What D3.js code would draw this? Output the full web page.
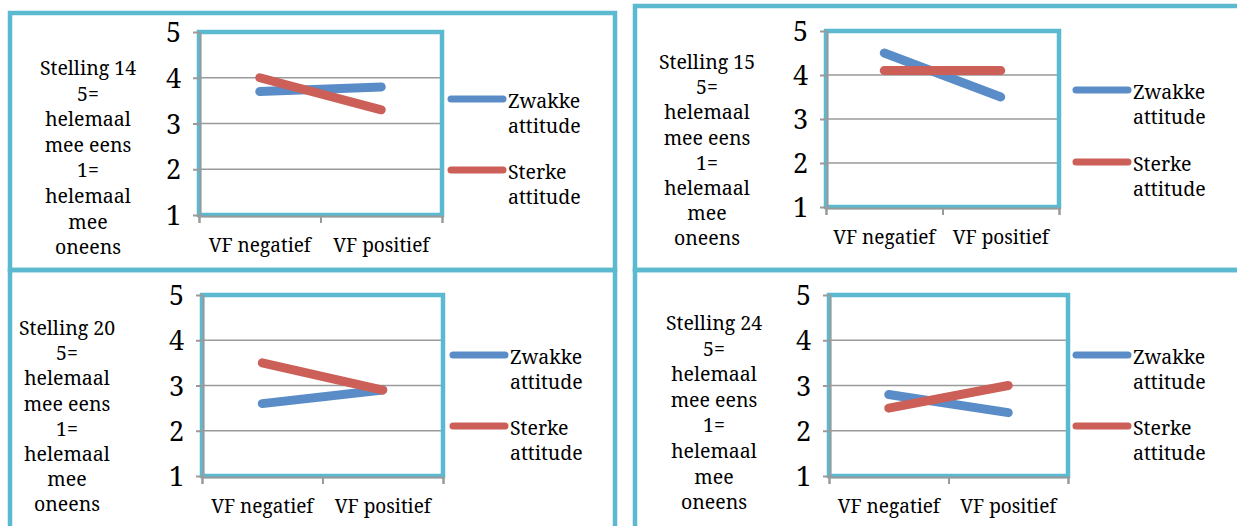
<!DOCTYPE html>
<html>
<head>
<meta charset="utf-8">
<script src="https://cdn.jsdelivr.net/npm/d3@7"></script>
<style>
  body { margin: 0; background: #fff; }
  svg { display: block; }
</style>
</head>
<body>
<div id="chart"></div>
<script>
// data
var categories = ["VF negatief", "VF positief"];
var stellingen = ["Stelling 14", "Stelling 15", "Stelling 20", "Stelling 24"];
var seriesNames = [["Zwakke", "attitude"], ["Sterke", "attitude"]];
var zwakke = [[3.7, 3.8], [4.5, 3.5], [2.6, 2.9], [2.8, 2.4]];
var sterke = [[4.0, 3.3], [4.1, 4.1], [3.5, 2.9], [2.5, 3.0]];
var yTicks = [1, 2, 3, 4, 5];
var sideLines = ["5=", "helemaal", "mee eens", "1=", "helemaal", "mee", "oneens"];

var colors = ["#5A8DC8", "#CC5F58"],
    frame = "#5BBAD0",
    grid = "#9a9a9a",
    serif = "Noto Serif";

// layout of the four panels
var panels = [
    {box: [10, 13, 605, 257], plot: [199, 32, 442, 215], side: [88, 68, 25.6], legend: [448, 99, 170]},
    {box: [635, 6, 620, 264], plot: [826, 31, 1059, 207], side: [707, 62, 25.2], legend: [1073, 90, 162]},
    {box: [10, 270, 605, 300], plot: [202, 295, 443, 476], side: [67, 328, 25.2], legend: [450, 355, 426]},
    {box: [635, 270, 620, 300], plot: [829, 295, 1068, 476], side: [714, 323, 25.6], legend: [1073, 355, 426]}
];

var svg = d3.select("#chart").append("svg")
    .attr("width", 1237)
    .attr("height", 526);

svg.append("rect").attr("width", 1237).attr("height", 526).attr("fill", "#fff");

panels.forEach(function(p, i) {
    var g = svg.append("g");
    var l = p.plot[0], t = p.plot[1], r = p.plot[2], b = p.plot[3];

    g.append("rect")
        .attr("x", p.box[0]).attr("y", p.box[1])
        .attr("width", p.box[2]).attr("height", p.box[3])
        .attr("fill", "none")
        .attr("stroke", frame)
        .attr("stroke-width", 4.5);

    var x = d3.scaleBand().domain(categories).range([l, r]).padding(0);
    var y = d3.scaleLinear().domain([1, 5]).range([b, t]);

    // gridlines
    g.selectAll(".grid").data(yTicks.slice(1, -1)).enter().append("line")
        .attr("x1", l).attr("x2", r)
        .attr("y1", function(d) { return y(d); })
        .attr("y2", function(d) { return y(d); })
        .attr("stroke", grid)
        .attr("stroke-width", 1.5);

    // plot frame
    g.append("rect")
        .attr("x", l).attr("y", t)
        .attr("width", r - l).attr("height", b - t)
        .attr("fill", "none")
        .attr("stroke", frame)
        .attr("stroke-width", 4.5);

    // y axis
    var yAxis = g.append("g")
        .attr("transform", "translate(" + (l + 1) + ",0)")
        .call(d3.axisLeft(y).tickValues(yTicks).tickFormat(d3.format("d"))
            .tickSize(7).tickSizeOuter(0).tickPadding(12));
    yAxis.attr("font-family", serif).attr("font-size", 27);
    yAxis.select(".domain").attr("stroke", grid).attr("stroke-width", 2);
    yAxis.selectAll(".tick line").attr("stroke", grid).attr("stroke-width", 2);
    yAxis.selectAll(".tick text")
        .attr("font-family", serif)
        .attr("font-size", 27)
        .attr("fill", "#000")
        .attr("dy", "0.36em");

    // x axis: labels at band centres, ticks at band edges
    var edges = d3.scaleLinear().domain([0, categories.length]).range([l, r]);
    var xTicks = g.append("g")
        .attr("transform", "translate(0," + (b + 1) + ")")
        .call(d3.axisBottom(edges).tickValues(d3.range(categories.length + 1)).tickSize(7).tickFormat(""));
    xTicks.select(".domain").attr("stroke", grid).attr("stroke-width", 2);
    xTicks.selectAll(".tick line").attr("stroke", grid).attr("stroke-width", 2);

    var xAxis = g.append("g")
        .attr("transform", "translate(0," + b + ")")
        .call(d3.axisBottom(x).tickSize(0).tickPadding(24));
    xAxis.attr("font-family", serif).attr("font-size", 19);
    xAxis.select(".domain").remove();
    xAxis.selectAll(".tick text")
        .attr("font-family", serif)
        .attr("font-size", 19)
        .attr("fill", "#000");

    // lines
    var line = d3.line()
        .x(function(d, j) { return x(categories[j]) + x.bandwidth() / 2; })
        .y(function(d) { return y(d); });

    [zwakke[i], sterke[i]].forEach(function(vals, s) {
        g.append("path")
            .attr("d", line(vals))
            .attr("fill", "none")
            .attr("stroke", colors[s])
            .attr("stroke-width", 9)
            .attr("stroke-linecap", "round");
    });

    // side text
    var side = g.append("text")
        .attr("text-anchor", "middle")
        .attr("font-family", serif)
        .attr("font-size", 19.5);
    [stellingen[i]].concat(sideLines).forEach(function(s, k) {
        side.append("tspan")
            .attr("x", p.side[0])
            .attr("y", p.side[1] + 7 + k * p.side[2])
            .text(s);
    });

    // legend
    seriesNames.forEach(function(names, s) {
        var ly = p.legend[1 + s];
        g.append("line")
            .attr("x1", p.legend[0] + 3).attr("x2", p.legend[0] + 55)
            .attr("y1", ly).attr("y2", ly)
            .attr("stroke", colors[s])
            .attr("stroke-width", 7)
            .attr("stroke-linecap", "round");
        var lt = g.append("text")
            .attr("font-family", serif)
            .attr("font-size", 19.5);
        names.forEach(function(n, k) {
            lt.append("tspan")
                .attr("x", p.legend[0] + 60)
                .attr("y", ly + 9 + k * 24.5)
                .text(n);
        });
    });
});
</script>
</body>
</html>
